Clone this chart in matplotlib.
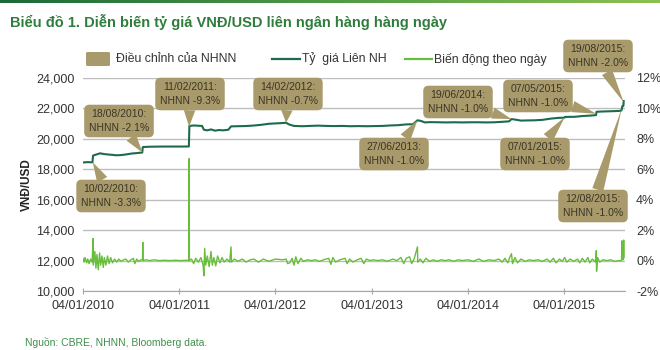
import numpy as np
import pandas as pd
import matplotlib
matplotlib.use('Agg')
import matplotlib.pyplot as plt
import matplotlib.dates as mdates
from matplotlib.patches import FancyBboxPatch
from matplotlib.lines import Line2D

FONT = ['Liberation Sans', 'DejaVu Sans']
plt.rcParams['font.family'] = FONT

# interbank VND/USD rate (key points)
rate_dates = ['2010-01-04', '2010-01-20', '2010-02-09', '2010-02-11', '2010-02-25', '2010-03-10',
              '2010-03-25', '2010-04-10', '2010-04-25', '2010-05-10', '2010-05-25', '2010-06-10',
              '2010-06-25', '2010-07-10', '2010-07-25', '2010-08-10', '2010-08-17', '2010-08-19',
              '2010-09-10', '2010-10-10', '2010-11-10', '2010-12-10', '2011-01-10', '2011-02-10',
              '2011-02-12', '2011-03-01', '2011-03-20', '2011-04-01', '2011-04-08', '2011-04-20',
              '2011-05-05', '2011-05-20', '2011-06-05', '2011-06-20', '2011-07-10', '2011-07-20',
              '2011-08-10', '2011-09-10', '2011-10-10', '2011-11-10', '2011-12-10', '2012-01-10',
              '2012-02-01', '2012-02-14', '2012-02-25', '2012-03-15', '2012-04-15', '2012-05-15',
              '2012-06-15', '2012-07-15', '2012-08-15', '2012-09-15', '2012-10-15', '2012-11-15',
              '2012-12-15', '2013-01-15', '2013-02-15', '2013-03-15', '2013-04-15', '2013-05-15',
              '2013-06-10', '2013-06-27', '2013-07-10', '2013-07-25', '2013-08-15', '2013-09-15',
              '2013-10-15', '2013-11-15', '2013-12-15', '2014-01-15', '2014-02-15', '2014-03-15',
              '2014-04-15', '2014-05-15', '2014-06-10', '2014-06-19', '2014-07-05', '2014-07-25',
              '2014-08-15', '2014-09-15', '2014-10-15', '2014-11-15', '2014-12-15', '2015-01-06',
              '2015-01-08', '2015-02-15', '2015-03-15', '2015-04-15', '2015-05-06', '2015-05-08',
              '2015-06-01', '2015-06-20', '2015-07-10', '2015-08-05', '2015-08-11', '2015-08-12',
              '2015-08-14', '2015-08-18', '2015-08-19']
rate_vals = [18450, 18470, 18460, 18900, 18980, 19050,
             19000, 18970, 18950, 18920, 18930, 18960,
             19000, 19040, 19060, 19090, 19100, 19460,
             19480, 19490, 19495, 19495, 19495, 19500,
             20850, 20880, 20860, 20850, 20600, 20560,
             20620, 20540, 20580, 20560, 20600, 20820,
             20830, 20840, 20870, 20920, 20990, 21020,
             21040, 21060, 20950, 20850, 20830, 20850,
             20870, 20850, 20840, 20850, 20830, 20840,
             20830, 20840, 20850, 20880, 20900, 20950,
             20960, 21220, 21180, 21080, 21100, 21090,
             21080, 21090, 21080, 21090, 21090, 21080,
             21090, 21120, 21150, 21300, 21260, 21200,
             21210, 21220, 21250, 21330, 21380, 21390,
             21440, 21450, 21500, 21530, 21560, 21780,
             21800, 21810, 21820, 21840, 21870, 21990,
             22150, 22180, 22480]

# daily change, %
chg_dates = ['2010-01-04', '2010-01-08', '2010-01-12', '2010-01-18', '2010-01-22', '2010-01-27',
             '2010-02-02', '2010-02-08', '2010-02-11', '2010-02-12', '2010-02-18', '2010-02-22',
             '2010-02-26', '2010-03-03', '2010-03-08', '2010-03-12', '2010-03-17', '2010-03-22',
             '2010-03-26', '2010-04-01', '2010-04-07', '2010-04-13', '2010-04-19', '2010-04-26',
             '2010-05-04', '2010-05-12', '2010-05-20', '2010-05-28', '2010-06-07', '2010-06-16',
             '2010-06-25', '2010-07-05', '2010-07-14', '2010-07-20', '2010-07-27', '2010-08-04',
             '2010-08-12', '2010-08-18', '2010-08-19', '2010-08-20', '2010-09-01', '2010-09-15',
             '2010-10-01', '2010-10-20', '2010-11-10', '2010-12-01', '2010-12-20', '2011-01-10',
             '2011-02-01', '2011-02-10', '2011-02-11', '2011-02-12', '2011-02-20', '2011-02-28',
             '2011-03-08', '2011-03-18', '2011-03-28', '2011-04-05', '2011-04-08', '2011-04-11',
             '2011-04-15', '2011-04-21', '2011-04-28', '2011-05-05', '2011-05-10', '2011-05-16',
             '2011-05-23', '2011-05-30', '2011-06-08', '2011-06-16', '2011-06-24', '2011-07-05',
             '2011-07-15', '2011-07-20', '2011-07-22', '2011-08-02', '2011-08-15', '2011-09-01',
             '2011-09-15', '2011-10-01', '2011-10-15', '2011-11-01', '2011-11-20', '2011-12-10',
             '2012-01-05', '2012-02-01', '2012-02-14', '2012-02-20', '2012-02-28', '2012-03-08',
             '2012-03-15', '2012-03-22', '2012-03-30', '2012-04-10', '2012-04-20', '2012-05-05',
             '2012-05-20', '2012-06-05', '2012-06-20', '2012-07-05', '2012-07-25', '2012-08-02',
             '2012-08-10', '2012-08-20', '2012-09-05', '2012-09-25', '2012-10-03', '2012-10-12',
             '2012-10-25', '2012-11-10', '2012-11-25', '2012-12-05', '2012-12-15', '2012-12-28',
             '2013-01-10', '2013-01-28', '2013-02-15', '2013-03-05', '2013-03-25', '2013-04-10',
             '2013-04-25', '2013-05-06', '2013-05-15', '2013-05-28', '2013-06-05', '2013-06-14',
             '2013-06-27', '2013-06-28', '2013-07-08', '2013-07-18', '2013-07-29', '2013-08-12',
             '2013-08-26', '2013-09-10', '2013-09-25', '2013-10-10', '2013-10-25', '2013-11-12',
             '2013-11-28', '2013-12-15', '2014-01-05', '2014-01-25', '2014-02-15', '2014-03-05',
             '2014-03-25', '2014-04-15', '2014-05-02', '2014-05-15', '2014-05-25', '2014-06-05',
             '2014-06-12', '2014-06-19', '2014-06-23', '2014-07-02', '2014-07-12', '2014-07-25',
             '2014-08-10', '2014-08-25', '2014-09-10', '2014-09-28', '2014-10-15', '2014-11-01',
             '2014-11-12', '2014-11-25', '2014-12-05', '2014-12-18', '2014-12-29', '2015-01-07',
             '2015-01-15', '2015-01-28', '2015-02-10', '2015-02-25', '2015-03-05', '2015-03-15',
             '2015-03-25', '2015-04-05', '2015-04-12', '2015-04-22', '2015-05-05', '2015-05-07',
             '2015-05-08', '2015-05-12', '2015-05-20', '2015-06-01', '2015-06-15', '2015-07-01',
             '2015-07-15', '2015-08-01', '2015-08-11', '2015-08-12', '2015-08-13', '2015-08-14',
             '2015-08-18', '2015-08-19', '2015-08-20']
chg_vals = [0.15, -0.1, 0.2, -0.15, 0.1, -0.2,
            0.1, -0.1, 1.45, -0.3, 0.6, -0.5,
            0.4, -0.6, 0.5, -0.3, 0.3, -0.45,
            0.2, -0.3, 0.3, -0.2, 0.2, -0.15,
            0.1, -0.1, 0.1, -0.05, 0.05, 0.1,
            -0.1, 0.05, 0.15, -0.2, 0.1, -0.05,
            0.05, 0.05, 1.2, 0.0, 0.05, 0.0,
            0.05, 0.0, 0.02, 0.0, 0.02, 0.0,
            0.02, 0.0, 6.7, 0.0, 0.1, -0.2,
            0.15, -0.1, 0.2, -0.3, -1.0, 0.8,
            -0.3, 0.3, -0.4, 0.6, -0.3, 0.2,
            -0.35, 0.3, -0.15, 0.2, -0.1, 0.1,
            -0.1, 0.9, -0.1, 0.1, -0.05, 0.1,
            -0.1, 0.05, 0.1, -0.1, 0.1, -0.05,
            0.1, 0.05, 0.1, -0.2, -0.15, 0.15,
            -0.3, 0.25, -0.2, 0.15, -0.05, 0.05,
            0.0, 0.05, -0.05, 0.05, 0.15, -0.25,
            0.2, -0.1, 0.05, 0.15, -0.2, 0.1,
            -0.1, 0.05, 0.15, -0.2, 0.1, 0.0,
            0.05, 0.0, 0.05, -0.05, 0.1, 0.0,
            0.2, -0.2, 0.15, 0.25, -0.2, 0.1,
            0.9, -0.1, 0.1, -0.15, 0.15, -0.05,
            0.05, -0.05, 0.05, 0.0, 0.05, -0.05,
            0.05, 0.0, 0.05, -0.05, 0.1, -0.05,
            0.05, 0.0, 0.1, -0.1, 0.15, -0.15,
            0.2, 0.45, -0.2, 0.2, -0.15, 0.1,
            -0.05, 0.05, 0.0, 0.05, -0.05, 0.1,
            -0.1, 0.15, -0.15, 0.1, -0.05, 0.2,
            -0.1, 0.1, -0.05, 0.1, -0.15, 0.15,
            -0.1, 0.2, -0.15, 0.1, -0.1, 0.65,
            -0.7, 0.2, -0.1, 0.05, 0.0, 0.05,
            -0.05, 0.0, 0.0, 1.3, 0.3, 0.1,
            0.05, 1.35, 0.2]

# SBV adjustments: label, date, rate at the point
adj_labels = ['10/02/2010:\nNHNN -3.3%', '18/08/2010:\nNHNN -2.1%', '11/02/2011:\nNHNN -9.3%',
              '14/02/2012:\nNHNN -0.7%', '27/06/2013:\nNHNN -1.0%', '19/06/2014:\nNHNN -1.0%',
              '07/01/2015:\nNHNN -1.0%', '07/05/2015:\nNHNN -1.0%', '19/08/2015:\nNHNN -2.0%',
              '12/08/2015:\nNHNN -1.0%']
adj_dates = ['2010-02-10', '2010-08-18', '2011-02-11', '2012-02-14', '2013-06-27', '2014-06-19',
             '2015-01-07', '2015-05-07', '2015-08-19', '2015-08-12']
adj_rates = [18460, 19100, 20800, 21060, 21220, 21300, 21420, 21650, 22400, 22000]
# box centres, pixels from top-left of the picture
box_xy = [(111, 196), (119, 121), (190, 94), (288, 94), (394, 154), (458, 102),
          (535, 154), (538, 96), (598, 56), (593, 206)]

DARK = '#1c6b4c'
LIGHT = '#68bd3a'
TAN = '#a99a6b'
TXT = '#3a3526'
GRID = '#bdbdbd'

fig = plt.figure(figsize=(6.6, 3.5), dpi=100)
W, H = 660, 350


def fx(x):
    return x / W


def fy(y):
    return 1 - y / H


# green strip at the top
bar = fig.add_axes([0, fy(3), 1, 3 / H])
bar.imshow(np.linspace(0, 1, 256)[None, :], aspect='auto',
           cmap=matplotlib.colors.LinearSegmentedColormap.from_list('g', ['#1d6a3a', '#4f9a45', '#8cc152']))
bar.axis('off')

ax = fig.add_axes([fx(83), fy(291), fx(625) - fx(83), fy(78) - fy(291)])
ax2 = ax.twinx()

rd = pd.to_datetime(rate_dates)
cd = pd.to_datetime(chg_dates)
ax.plot(rd, rate_vals, color=DARK, lw=1.5, zorder=3)
ax2.plot(cd, chg_vals, color=LIGHT, lw=1.0, zorder=3)

ax.set_ylim(10000, 24000)
ax.set_yticks(range(10000, 24001, 2000))
ax.set_yticklabels([f'{v:,}' for v in range(10000, 24001, 2000)])
ax2.set_ylim(-2, 12)
ax2.set_yticks(range(-2, 13, 2))
ax2.set_yticklabels([f'{v}%' for v in range(-2, 13, 2)])
ax.set_xlim(pd.Timestamp('2010-01-04'), pd.Timestamp('2015-08-24'))
xt = pd.to_datetime(['2010-01-04', '2011-01-04', '2012-01-04', '2013-01-04', '2014-01-04', '2015-01-04'])
ax.set_xticks(xt)
ax.xaxis.set_major_formatter(mdates.DateFormatter('%d/%m/%Y'))

ax.grid(axis='y', color=GRID, lw=1)
ax.set_axisbelow(True)
for a in (ax, ax2):
    for s in ('left', 'right', 'top'):
        a.spines[s].set_visible(False)
    a.spines['bottom'].set_color('#a6a6a6')
ax2.spines['bottom'].set_visible(False)
ax.tick_params(axis='y', length=0, pad=6, labelsize=9, labelcolor='#333333')
ax2.tick_params(axis='y', length=0, pad=8, labelsize=9, labelcolor='#333333')
ax.tick_params(axis='x', direction='inout', length=5, color='#a6a6a6', pad=4, labelsize=9, labelcolor='#333333')

# callouts
for lab, d, r, (bx, by) in zip(adj_labels, adj_dates, adj_rates, box_xy):
    ax2.annotate(lab, xy=(mdates.date2num(pd.Timestamp(d)), r), xycoords=ax.transData,
                 xytext=(bx, H - by), textcoords='figure pixels',
                 ha='center', va='center', fontsize=7.5, color=TXT,
                 linespacing=1.4, zorder=6,
                 bbox=dict(boxstyle='round,pad=0.45,rounding_size=0.5', fc=TAN, ec='none'),
                 arrowprops=dict(arrowstyle='wedge,tail_width=1.1', fc=TAN, ec='none',
                                 shrinkA=0, shrinkB=0))

# legend
fig.add_artist(FancyBboxPatch((fx(86), fy(66)), fx(110) - fx(86), fy(52) - fy(66),
                              boxstyle='round,pad=0,rounding_size=0.003', fc=TAN, ec='none',
                              transform=fig.transFigure))
fig.text(fx(116), fy(59), 'Điều chỉnh của NHNN', fontsize=8.8, color='#333333', va='center')
fig.add_artist(Line2D([fx(272), fx(300)], [fy(59), fy(59)], color=DARK, lw=1.6, transform=fig.transFigure))
fig.text(fx(302), fy(59), 'Tỷ  giá Liên NH', fontsize=8.8, color='#333333', va='center')
fig.add_artist(Line2D([fx(405), fx(432)], [fy(59), fy(59)], color=LIGHT, lw=1.6, transform=fig.transFigure))
fig.text(fx(434), fy(59), 'Biến động theo ngày', fontsize=8.8, color='#333333', va='center')

fig.text(fx(10), fy(22), 'Biểu đồ 1. Diễn biến tỷ giá VNĐ/USD liên ngân hàng hàng ngày',
         fontsize=10.5, weight='bold', color='#2f7d3c', va='center')
fig.text(fx(27), fy(185), 'VNĐ/USD', rotation=90, fontsize=8.5, weight='bold',
         color='#222222', ha='center', va='center')
fig.text(fx(25), fy(342), 'Nguồn: CBRE, NHNN, Bloomberg data.', fontsize=7.5,
         color='#3f8f4c', va='center')

fig.savefig('out.png', dpi=100)
